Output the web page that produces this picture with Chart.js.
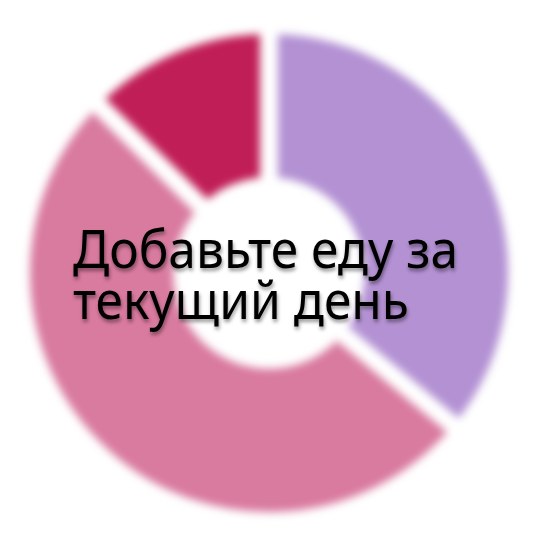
<!DOCTYPE html>
<html>
<head>
<meta charset="utf-8">
<script src="https://cdn.jsdelivr.net/npm/chart.js@4"></script>
<style>
  html, body { margin: 0; padding: 0; background: #fff; width: 549px; height: 549px; overflow: hidden; }
  #wrap { position: relative; width: 549px; height: 549px; }
  #c { position: absolute; left: 0; top: 0; filter: blur(4px); }
  #msg {
    position: absolute; left: 73px; top: 222px;
    font-family: "Noto Sans", sans-serif; font-size: 52px; line-height: 51px;
    color: #000; white-space: nowrap; transform-origin: 0 0;
    text-shadow: 1px 3px 4px rgba(0,0,0,0.4);
  }
</style>
</head>
<body>
<div id="wrap">
  <canvas id="c" width="549" height="549"></canvas>
  <div id="msg"><div id="l1"></div><div id="l2"></div></div>
</div>
<script>
const categories = ["Белки", "Углеводы", "Жиры"];
const values = [36.0, 51.4, 12.6];
const colors = ["#b391d3", "#d97a9f", "#c01e56"];
const messageLines = ["Добавьте еду за", "текущий день"];

document.getElementById('l1').textContent = messageLines[0];
document.getElementById('l2').textContent = messageLines[1];

new Chart(document.getElementById('c'), {
  type: 'doughnut',
  data: {
    labels: categories,
    datasets: [{
      data: values,
      backgroundColor: colors,
      borderColor: '#ffffff',
      borderWidth: 18,
      hoverOffset: 0
    }]
  },
  options: {
    responsive: false,
    animation: false,
    cutout: '35%',
    layout: { padding: { left: 12, top: 16, right: 23, bottom: 19 } },
    plugins: { legend: { display: false }, tooltip: { enabled: false } }
  }
});

const msg = document.getElementById('msg');
const w = document.getElementById('l1').getBoundingClientRect().width;
msg.style.transform = 'scaleX(' + (385 / w) + ')';
</script>
</body>
</html>
